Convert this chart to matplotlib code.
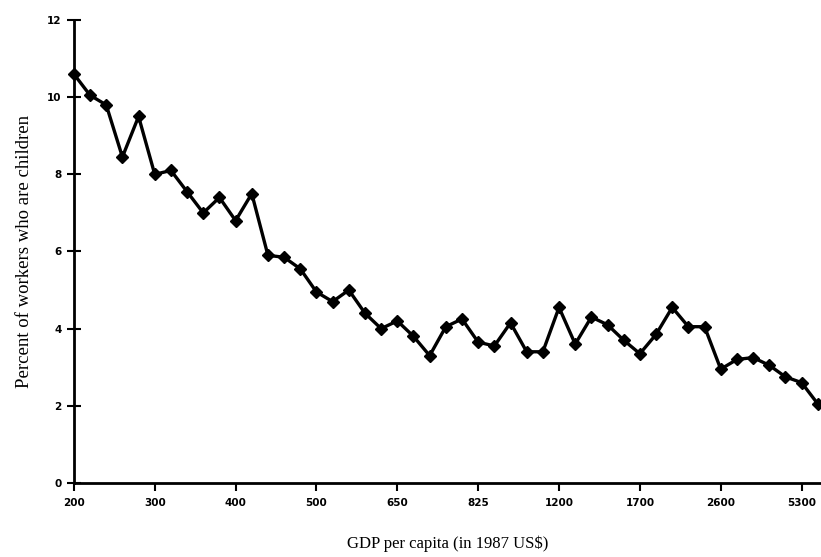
import numpy as np
import matplotlib
matplotlib.use("Agg")
import matplotlib.pyplot as plt

# percent of workers who are children
child_pct = [10.6, 10.05, 9.8, 8.45, 9.5, 8.0, 8.1, 7.55, 7.0, 7.4,
             6.8, 7.5, 5.9, 5.85, 5.55, 4.95, 4.7, 5.0, 4.4, 4.0,
             4.2, 3.8, 3.3, 4.05, 4.25, 3.65, 3.55, 4.15, 3.4, 3.4,
             4.55, 3.6, 4.3, 4.1, 3.7, 3.35, 3.85, 4.55, 4.05, 4.05,
             2.95, 3.2, 3.25, 3.05, 2.75, 2.6, 2.05]
gdp_labels = ['200', '300', '400', '500', '650', '825', '1200', '1700', '2600', '5300']
y_ticks = [0, 2, 4, 6, 8, 10, 12]

idx = np.arange(len(child_pct))

fig = plt.figure(figsize=(8.21, 5.57), dpi=100)
ax = fig.add_axes([0.090, 0.133, 0.910, 0.831])

ax.plot(idx, child_pct, color='black', lw=2.4, marker='D', ms=6,
        markerfacecolor='black', markeredgecolor='black', clip_on=False, zorder=3)

ax.set_xlim(0, 46.2)
ax.set_ylim(0, 12)
ax.set_xticks(np.arange(0, 46, 5))
ax.set_xticklabels(gdp_labels)
ax.set_yticks(y_ticks)
ax.set_yticklabels([str(v) for v in y_ticks])

for s in ['top', 'right']:
    ax.spines[s].set_visible(False)
for s in ['left', 'bottom']:
    ax.spines[s].set_linewidth(2.0)

ax.tick_params(axis='x', direction='out', length=6, width=1.5, pad=5)
ax.tick_params(axis='y', direction='inout', length=10, width=1.5, pad=4)
for lab in ax.get_xticklabels() + ax.get_yticklabels():
    lab.set_fontweight('bold')
    lab.set_fontsize(7.5)
    lab.set_family('DejaVu Sans')

ax.set_xlabel('GDP per capita (in 1987 US$)', family='Liberation Serif', fontsize=12, labelpad=20)
ax.set_ylabel('Percent of workers who are children', family='Liberation Serif', fontsize=13.5, labelpad=10)

fig.savefig('out.png', dpi=100)
